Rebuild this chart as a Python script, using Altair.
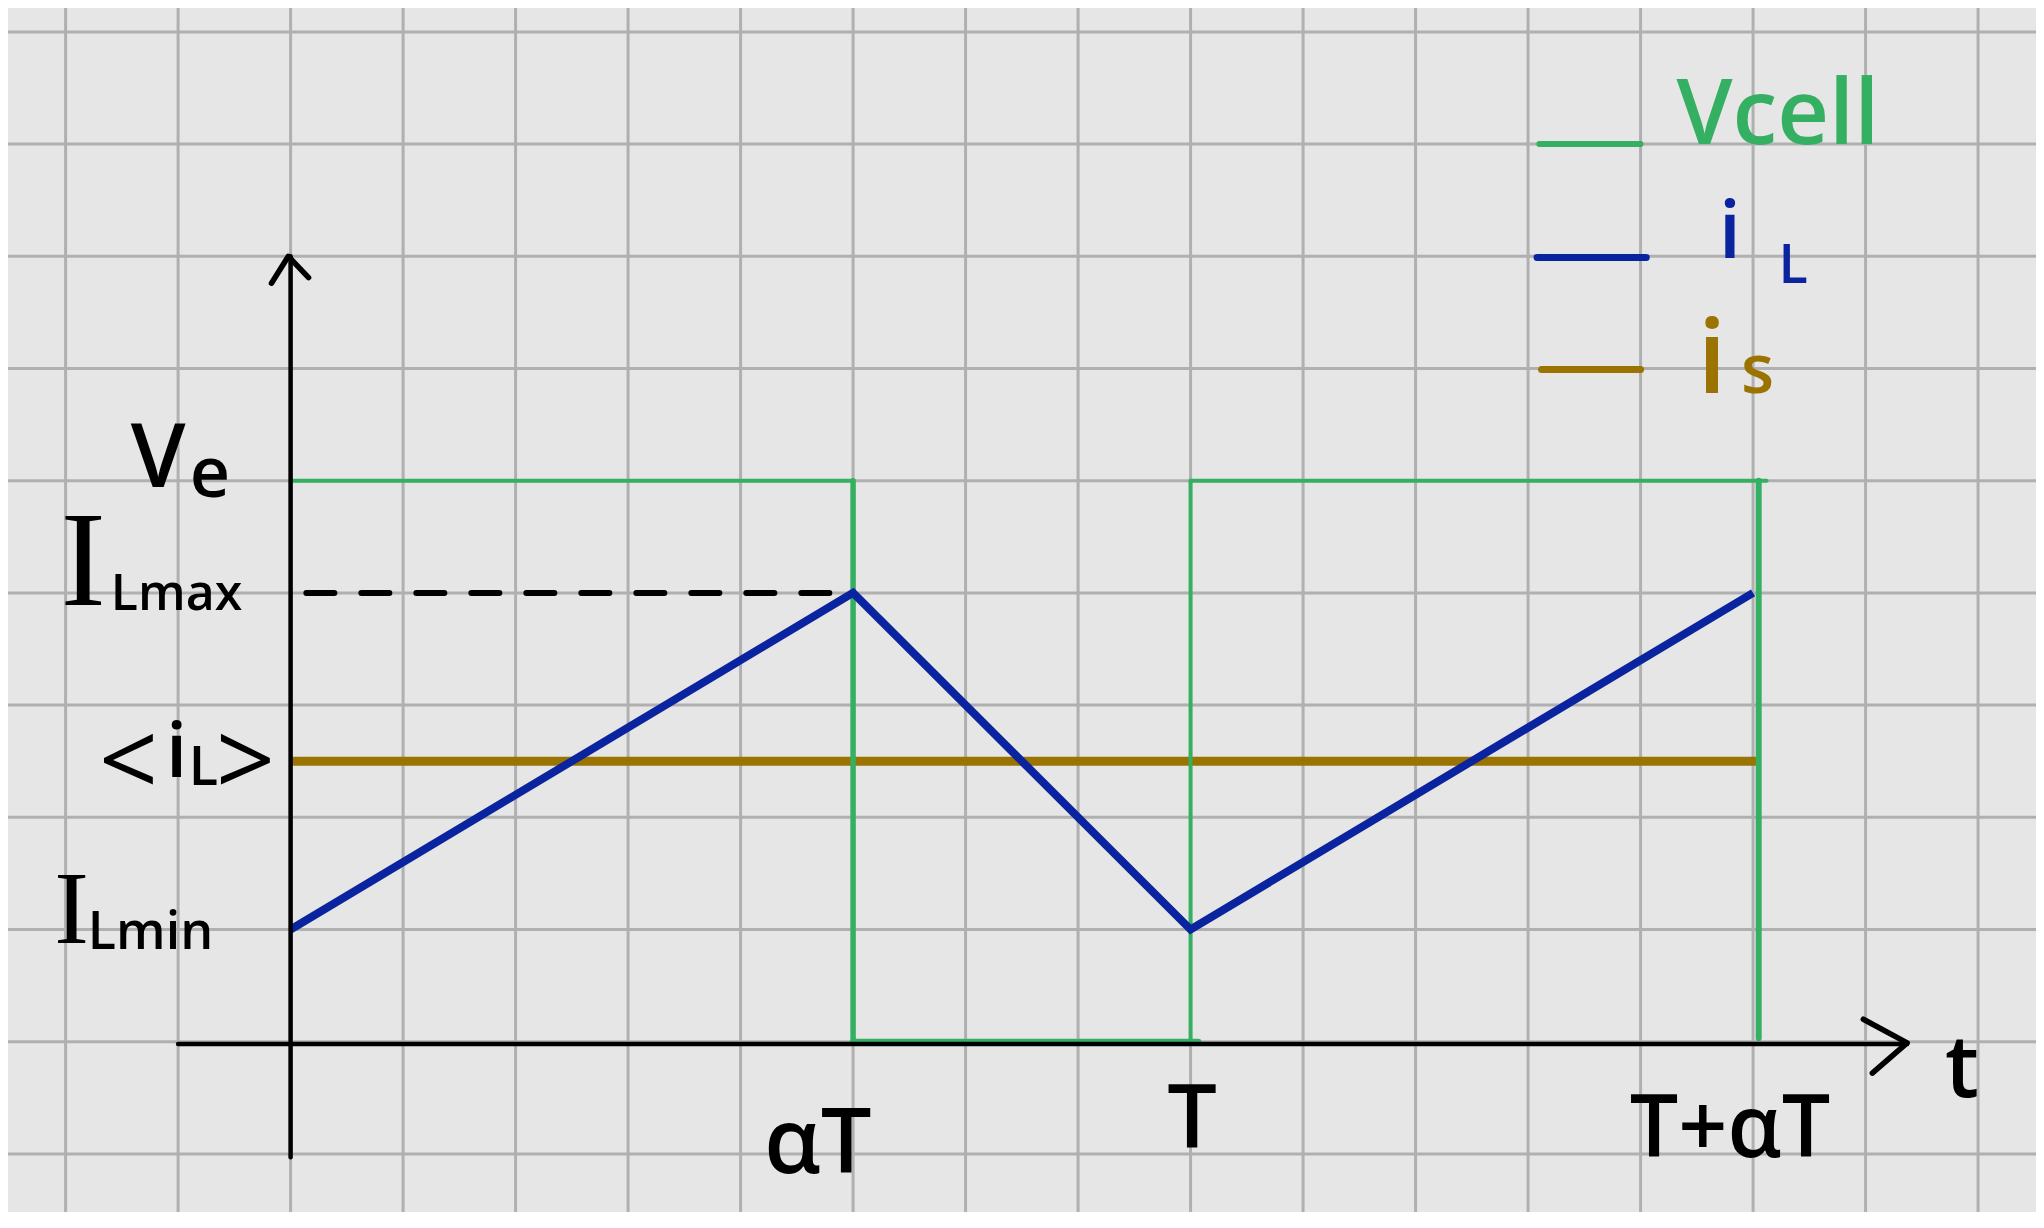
import altair as alt
import pandas as pd

# ---------------- data (grid units) ----------------
grid_x = list(range(-2, 16))
grid_y = list(range(-1, 10))

# inductor current i_L (triangle)
iL_t = [0, 5, 8, 13]
iL_v = [1, 4, 1, 4]

# average current i_s
is_t = [0, 13.05]
is_v = [2.5, 2.5]

# cell voltage Vcell (square wave), as segments
vc_x1 = [0, 5, 5, 8, 8, 13.05]
vc_y1 = [5, 5, 0, 0, 5, 5]
vc_x2 = [5, 5, 8.07, 8, 13.12, 13.05]
vc_y2 = [5, 0, 0, 5, 5, 0.03]
vc_w = [4, 5.5, 6, 4, 4, 6]

# dashed I_Lmax guide
dash_x = [0.14, 5]
dash_y = [4, 4]

# axes
ax_x1 = [0, -1.0]
ax_y1 = [-1.03, -0.02]
ax_x2 = [0, 14.37]
ax_y2 = [7.0, -0.02]

# arrow heads
arr_id = ["y", "y", "y", "x", "x", "x"]
arr_ord = [0, 1, 2, 0, 1, 2]
arr_x = [-0.17, -0.02, 0.16, 13.98, 14.37, 14.06]
arr_y = [6.76, 7.0, 6.81, 0.20, -0.01, -0.28]

# legend
leg_name = ["Vcell", "iL", "is"]
leg_x1 = [11.1, 11.08, 11.12]
leg_x2 = [12.0, 12.05, 12.0]
leg_y = [8.0, 6.99, 5.99]
leg_w = [6, 7, 7]

GREEN, BLUE, BROWN, BLACK = "#35b063", "#0a24a0", "#9a7300", "#000000"
leg_color = [GREEN, BLUE, BROWN]

# text annotations
sans_text = ["V", "e", "Lmax", "i", "L", "Lmin", "αT", "T", "T+αT", "t",
             "Vcell", "i", "L", "i", "s"]
sans_x = [-1.178, -0.716, -1.014, -1.014, -0.774, -1.245, 4.688, 8.013, 12.795, 14.857,
          13.22, 12.795, 13.356, 12.634, 13.04]
sans_y = [4.945, 4.856, 3.85, 2.36, 2.288, 0.826, -1.172, -0.947, -1.028, -0.493,
          8.0, 6.985, 6.762, 5.78, 5.78]
sans_size = [88, 70, 50, 76, 54, 52, 90, 88, 86, 86,
             90, 80, 54, 104, 68]
sans_color = [BLACK, BLACK, BLACK, BLACK, BLACK, BLACK, BLACK, BLACK, BLACK, BLACK,
              GREEN, BLUE, BLUE, BROWN, BROWN]

serif_text = ["I", "I"]
serif_x = [-1.845, -1.948]
serif_y = [3.892, 0.880]
serif_size = [136, 104]

br_text = ["<", ">"]
br_x = [-1.441, -0.401]
br_y = [2.18, 2.18]
br_size = [104, 104]

# ---------------- chart ----------------
xs = alt.Scale(domain=[-2.512, 15.515], nice=False, zero=False)
ys = alt.Scale(domain=[-1.518, 9.213], nice=False, zero=False)


def X(f):
    return alt.X(f, type="quantitative", scale=xs, axis=None)


def Y(f):
    return alt.Y(f, type="quantitative", scale=ys, axis=None)


gridv = alt.Chart(pd.DataFrame({"gx": grid_x})).mark_rule(
    color="#b0b0b0", strokeWidth=3).encode(x=X("gx"))
gridh = alt.Chart(pd.DataFrame({"gy": grid_y})).mark_rule(
    color="#b0b0b0", strokeWidth=3).encode(y=Y("gy"))

axes = alt.Chart(pd.DataFrame({"x1": ax_x1, "y1": ax_y1, "x2": ax_x2, "y2": ax_y2})).mark_rule(
    color=BLACK, strokeWidth=4.5, strokeCap="round").encode(
    x=X("x1"), y=Y("y1"), x2="x2", y2="y2")

arrows = alt.Chart(pd.DataFrame({"id": arr_id, "o": arr_ord, "x": arr_x, "y": arr_y})).mark_line(
    color=BLACK, strokeWidth=5.5, strokeCap="round", strokeJoin="round").encode(
    x=X("x"), y=Y("y"), detail="id:N", order="o:Q")

dash = alt.Chart(pd.DataFrame({"x": [dash_x[0]], "y": [dash_y[0]], "x2": [dash_x[1]], "y2": [dash_y[1]]})).mark_rule(
    color=BLACK, strokeWidth=6, strokeDash=[28, 27], strokeCap="round").encode(
    x=X("x"), y=Y("y"), x2="x2", y2="y2")

brown = alt.Chart(pd.DataFrame({"x": [is_t[0]], "y": [is_v[0]], "x2": [is_t[1]], "y2": [is_v[1]]})).mark_rule(
    color=BROWN, strokeWidth=9).encode(
    x=X("x"), y=Y("y"), x2="x2", y2="y2")

vcell = alt.Chart(pd.DataFrame({"x1": vc_x1, "y1": vc_y1, "x2": vc_x2, "y2": vc_y2, "w": vc_w})).mark_rule(
    color=GREEN, strokeCap="round").encode(
    x=X("x1"), y=Y("y1"), x2="x2", y2="y2", size=alt.Size("w:Q", scale=None))

il = alt.Chart(pd.DataFrame({"t": iL_t, "v": iL_v})).mark_line(
    color=BLUE, strokeWidth=8, strokeJoin="miter", strokeCap="butt").encode(
    x=X("t"), y=Y("v"), order="t:Q")

legend = alt.Chart(pd.DataFrame({"n": leg_name, "x1": leg_x1, "x2": leg_x2, "y": leg_y,
                                 "c": leg_color, "w": leg_w})).mark_rule(
    strokeCap="round").encode(
    x=X("x1"), x2="x2", y=Y("y"), color=alt.Color("c:N", scale=None),
    size=alt.Size("w:Q", scale=None))

sans = alt.Chart(pd.DataFrame({"t": sans_text, "x": sans_x, "y": sans_y, "s": sans_size, "c": sans_color})).mark_text(
    font="Open Sans", fontWeight=600, align="center", baseline="alphabetic").encode(
    x=X("x"), y=Y("y"), text="t:N", size=alt.Size("s:Q", scale=None), color=alt.Color("c:N", scale=None))

serif = alt.Chart(pd.DataFrame({"t": serif_text, "x": serif_x, "y": serif_y, "s": serif_size})).mark_text(
    font="Liberation Serif", align="center", baseline="alphabetic", color=BLACK).encode(
    x=X("x"), y=Y("y"), text="t:N", size=alt.Size("s:Q", scale=None))

brackets = alt.Chart(pd.DataFrame({"t": br_text, "x": br_x, "y": br_y, "s": br_size})).mark_text(
    font="Open Sans", align="center", baseline="alphabetic", color=BLACK).encode(
    x=X("x"), y=Y("y"), text="t:N", size=alt.Size("s:Q", scale=None))

chart = alt.layer(
    gridv, gridh, brown, vcell, il, dash, axes, arrows, legend, sans, serif, brackets
).properties(
    width=2028, height=1204, padding=0, autosize=alt.AutoSizeParams(type="none"),
    background="#e6e6e6"
).configure_view(stroke=None, fill="#e6e6e6")

chart.save("out.html", embed_options={"renderer": "svg", "actions": False})
